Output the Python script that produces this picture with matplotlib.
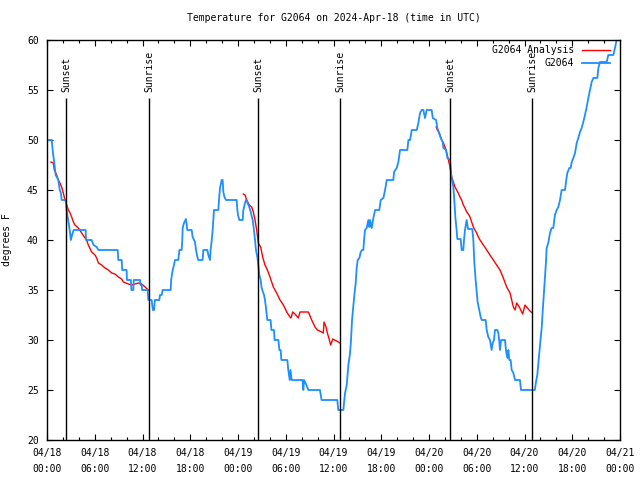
import numpy as np
import matplotlib
matplotlib.use('Agg')
import matplotlib.pyplot as plt
import matplotlib.dates as mdates
from matplotlib.ticker import MultipleLocator
from datetime import datetime, timedelta

plt.rcParams['font.family'] = ['DejaVu Sans Mono']

# hours since 2024-04-18 00:00 UTC
obs_hours = [0, 0.59, 0.75, 0.92, 1.09, 1.42, 1.6, 1.75, 1.84, 2.35, 2.5, 2.7, 2.85, 3.0, 3.15, 3.35,
             4.86, 4.9, 5.61, 5.85, 6.24, 6.45, 8.88, 8.96, 9.38, 9.45, 10.0, 10.05, 10.55, 10.6, 10.85,
             10.9, 11.69, 11.75, 11.9, 11.95, 12.65, 12.73, 13.15, 13.3, 13.45, 13.55, 14.11, 14.2, 14.41,
             14.53, 15.54, 15.6, 15.79, 15.96, 16.08, 16.5, 16.63, 16.92, 17.0, 17.05, 17.21, 17.46, 17.55,
             17.63, 18.18, 18.3, 18.6, 18.72, 18.9, 19.0, 19.56, 19.64, 20.15, 20.27, 20.48, 20.56, 20.7,
             20.82, 20.9, 20.98, 21.53, 21.61, 21.74, 21.95, 22.07, 22.16, 22.3, 22.49, 23.83, 23.92, 24.0,
             24.17, 24.59, 24.67, 24.88, 25.0, 25.09, 25.2, 25.42, 25.6, 25.84, 25.93, 26.14, 26.26, 26.43,
             26.55, 26.68, 26.85, 26.97, 27.27, 27.39, 27.52, 27.68, 28.1, 28.2, 28.52, 28.6, 29.07, 29.2,
             29.36, 29.45, 30.2, 30.32, 30.5, 30.6, 30.74, 32.1, 32.21, 32.3, 32.6, 32.84, 34.3, 34.5, 36.48,
             36.6, 37.24, 37.32, 37.45, 37.66, 37.74, 37.87, 38.08, 38.2, 38.33, 38.5, 38.62, 38.79, 38.91,
             39.04, 39.25, 39.42, 39.58, 39.75, 39.84, 39.96, 40.17, 40.38, 40.51, 40.59, 40.8, 41.01, 41.22,
             41.76, 41.93, 42.27, 42.48, 42.69, 43.52, 43.61, 43.94, 44.15, 44.36, 45.28, 45.41, 45.62, 45.83,
             46.46, 46.66, 46.87, 47.08, 47.29, 47.5, 47.71, 48.34, 48.47, 48.89, 49.05, 49.26, 49.47, 49.72,
             49.81, 50.14, 50.31, 50.64, 50.76, 50.89, 51.06, 51.18, 51.31, 51.47, 51.56, 51.98, 52.1, 52.31,
             52.4, 52.52, 52.73, 52.9, 53.44, 53.57, 53.7, 53.86, 53.99, 54.11, 54.32, 54.49, 54.62, 55.12,
             55.25, 55.45, 55.66, 55.87, 56.0, 56.17, 56.29, 56.59, 56.71, 56.84, 56.92, 57.05, 57.55, 57.67,
             57.84, 57.97, 58.09, 58.26, 58.39, 58.6, 58.81, 59.43, 59.56, 61.3, 61.44, 61.61, 61.74, 61.86,
             62.03, 62.16, 62.28, 62.45, 62.58, 62.7, 62.78, 62.99, 63.2, 63.41, 63.62, 63.71, 63.83, 64.04,
             64.25, 64.46, 64.67, 65.09, 65.21, 65.38, 65.63, 65.8, 65.93, 66.14, 66.35, 66.56, 66.76, 66.97,
             67.18, 67.39, 67.6, 67.81, 68.02, 68.23, 68.44, 68.65, 69.15, 69.28, 69.49, 70.33, 70.53, 71.16,
             71.37, 71.58, 71.8]
obs_temps = [50, 50, 48.7, 47.7, 46.5, 46, 45, 44.7, 44, 44, 42.8, 41.8, 41, 40, 40.5, 41,
             41, 40, 40, 39.5, 39.3, 39, 39, 38, 38, 37, 37, 36, 36, 35, 35,
             36, 36, 35.5, 35.5, 35, 35, 34, 34, 33, 33, 34, 34, 34.5, 34.5,
             35, 35, 36, 37, 37.5, 38, 38, 39, 39, 40, 41.2, 41.7, 42.1, 41.5,
             41, 41, 40.3, 39.8, 39, 38.3, 38, 38, 39, 39, 38.5, 38, 39, 40,
             41, 42, 43, 43, 44, 45.2, 46, 46, 44.8, 44.3, 44, 44, 43, 42.5,
             42, 42, 43, 43.7, 44, 44, 43.7, 43.3, 42.8, 42, 41.5, 40, 39, 38.3,
             37.5, 36.5, 36, 35.2, 34.5, 34, 33.2, 32, 32, 31, 31, 30, 30, 29,
             29, 28, 28, 27, 26, 27, 26, 26, 25, 26, 25.5, 25, 25, 24, 24,
             23, 23, 23.7, 24.7, 25.5, 26.3, 27.5, 28.7, 30, 32, 33.5, 34.5, 35.7, 37.2,
             38, 38.2, 38.8, 39, 39, 40, 41, 41.2, 42, 41.3, 42, 41.2, 42.2, 43,
             43, 44, 44.2, 45, 46, 46, 46.8, 47.2, 47.8, 49, 49, 50, 50, 51,
             51, 51.7, 52.7, 53, 53, 52.2, 53, 53, 52.2, 52, 51.2, 50.7, 50.2, 49.8,
             49.2, 49, 48.2, 48, 46.7, 46, 45.3, 44, 42.3, 41, 40.1, 40.1, 39, 39,
             40, 41, 42, 41.1, 41.1, 40, 37.7, 36, 34.8, 33.8, 33, 32.3, 32, 32,
             31, 30.3, 30, 29, 29.7, 30, 31, 31, 30.7, 29.8, 29, 30, 30, 29,
             28.2, 29, 28, 28, 27, 26.7, 26, 26, 25, 25, 25.8, 26.5, 27.7, 28.7,
             30.2, 31.2, 32.8, 34.8, 36.2, 37.8, 39.2, 39.7, 40.7, 41.2, 41.2, 41.8, 42.5, 43,
             43.3, 44, 45, 45, 45.8, 46.7, 47.2, 47.2, 47.8, 48.2, 48.7, 49.7, 50.2, 50.8,
             51.2, 51.8, 52.5, 53.3, 54.2, 55, 55.8, 56.2, 56.2, 57.2, 57.8, 57.8, 58.5, 58.5,
             59.2, 60, 60.4]

night1_hours = [0.5, 0.8, 0.92, 1.21, 1.42, 1.63, 1.84, 2.05, 2.26, 2.47, 2.68, 2.89, 3.1, 3.31, 3.52,
                3.94, 4.36, 4.69, 4.98, 5.19, 5.61, 6.03, 6.24, 6.45, 6.87, 7.29, 7.71, 8.13, 8.55,
                8.96, 9.38, 9.59, 10.22, 10.64, 11.06, 11.48, 11.9, 12.32, 12.73]
night1_temps = [47.8, 47.7, 47.0, 46.5, 46.0, 45.7, 45.3, 44.7, 44.0, 43.5, 43.0, 42.7, 42.3, 41.8, 41.5,
                41.2, 40.7, 40.3, 40.0, 39.5, 38.8, 38.5, 38.2, 37.7, 37.5, 37.2, 37.0, 36.7, 36.6,
                36.3, 36.1, 35.8, 35.6, 35.5, 35.6, 35.7, 35.6, 35.3, 35.0]
night2_hours = [24.67, 24.88, 25.09, 25.42, 25.72, 25.93, 26.14, 26.35, 26.55, 26.85, 27.1, 27.39, 27.69,
                28.02, 28.44, 28.86, 29.28, 29.7, 30.12, 30.53, 30.66, 30.87, 31.16, 31.58, 31.79, 32.84,
                33.26, 33.68, 33.97, 34.51, 34.72, 34.81, 35.06, 35.23, 35.48, 35.65, 35.9, 36.4, 36.82]
night2_temps = [44.6, 44.5, 44.0, 43.5, 43.3, 42.8, 42.0, 41.0, 39.7, 39.3, 38.3, 37.5, 37.0,
                36.3, 35.3, 34.7, 34.0, 33.5, 32.8, 32.3, 32.2, 32.8, 32.6, 32.2, 32.8, 32.8,
                32.0, 31.3, 31.0, 30.8, 30.7, 31.8, 31.3, 30.7, 30.0, 29.5, 30.1, 29.9, 29.7]
night3_hours = [48.9, 49.05, 49.3, 49.6, 49.81, 50.14, 50.44, 50.64, 50.85, 51.06, 51.27, 51.47, 51.68,
                51.89, 52.1, 52.31, 52.52, 52.73, 52.94, 53.15, 53.36, 53.57, 53.78, 53.99, 54.2, 54.41,
                54.83, 55.25, 55.66, 56.08, 56.5, 56.92, 57.34, 57.76, 58.18, 58.39, 58.6, 58.81, 59.02,
                59.35, 59.64, 59.77, 60.06, 60.36, 60.69, 60.98]
night3_temps = [51.3, 51.0, 50.7, 50.0, 49.7, 49.0, 48.0, 47.3, 46.3, 45.8, 45.3, 45.0, 44.7,
                44.3, 44.0, 43.5, 43.2, 42.8, 42.6, 42.3, 41.8, 41.3, 41.0, 40.7, 40.3, 40.0,
                39.5, 39.0, 38.5, 38.0, 37.5, 37.0, 36.2, 35.3, 34.7, 34.0, 33.3, 33.0, 33.7,
                33.3, 32.8, 32.6, 33.5, 33.2, 32.9, 32.7]

sun_hours = [2.39, 12.86, 26.56, 36.82, 50.68, 60.99]
sun_labels = ['Sunset', 'Sunrise', 'Sunset', 'Sunrise', 'Sunset', 'Sunrise']

start = datetime(2024, 4, 18)
t0 = mdates.date2num(start)


def to_dates(hours):
    return t0 + np.asarray(hours, dtype=float) / 24.0


fig = plt.figure(figsize=(6.4, 4.8), dpi=100)
ax = fig.add_axes([47 / 640, 40 / 480, 573 / 640, 400 / 480])

for hh, tt in [(night1_hours, night1_temps), (night2_hours, night2_temps), (night3_hours, night3_temps)]:
    ax.plot(to_dates(hh), tt, color='#ff0000', lw=1)
ax.plot(to_dates(obs_hours), obs_temps, color='#1e8fff', lw=1.3)

ax.vlines(to_dates(sun_hours), 20, 54.2, color='black', lw=1)
for h, lab in zip(sun_hours, sun_labels):
    ax.text(to_dates(h), 54.8, lab, rotation=90, ha='center', va='bottom', fontsize=7)

ax.set_xlim(t0, t0 + 3)
ax.set_ylim(20, 60)

tick_hours = list(range(0, 73, 6))
tick_labels = [(start + timedelta(hours=h)).strftime('%m/%d\n%H:%M') for h in tick_hours]
ax.set_xticks(to_dates(tick_hours))
ax.set_xticklabels(tick_labels, linespacing=1.7)
ax.set_xticks(to_dates(range(0, 73, 2)), minor=True)
ax.yaxis.set_major_locator(MultipleLocator(5))
ax.tick_params(which='both', direction='in', top=True, right=True, labelsize=7)
ax.tick_params(which='major', length=4, width=0.8)
ax.tick_params(which='minor', length=2.2, width=0.8)
ax.tick_params(axis='x', pad=6)
ax.tick_params(axis='y', pad=6)
for s in ax.spines.values():
    s.set_linewidth(1)

ax.set_ylabel('degrees F', fontsize=7)
ax.yaxis.set_label_coords((12 - 47) / 573, 0.5)
ax.set_title('Temperature for G2064 on 2024-Apr-18 (time in UTC)', fontsize=7, pad=14)

# gnuplot style key, top right
ax.text(0.9197, 0.976, 'G2064 Analysis', transform=ax.transAxes, ha='right', va='center', fontsize=7)
ax.plot([0.934, 0.9825], [0.976, 0.976], transform=ax.transAxes, color='#ff0000', lw=1, clip_on=False)
ax.text(0.9197, 0.9425, 'G2064', transform=ax.transAxes, ha='right', va='center', fontsize=7)
ax.plot([0.934, 0.9825], [0.9425, 0.9425], transform=ax.transAxes, color='#1e8fff', lw=1.3, clip_on=False)

fig.savefig('out.png', dpi=100)
